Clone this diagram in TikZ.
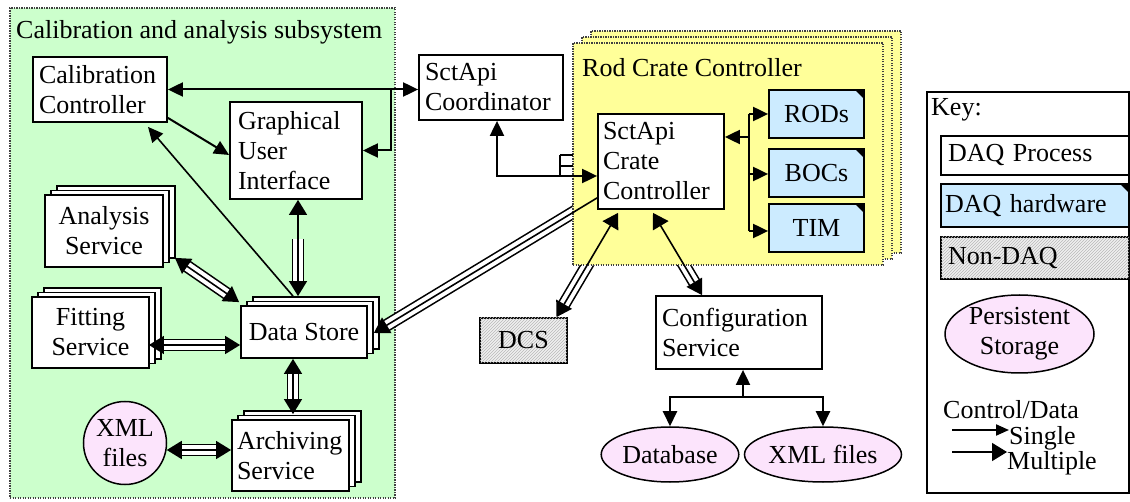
\documentclass[tikz,border=0pt]{standalone}
\usepackage{fontspec}
\newfontfamily\lserif{LiberationSerif}[Extension=.ttf, UprightFont=*-Regular, BoldFont=*-Bold]
\usetikzlibrary{arrows.meta,shadows,patterns,calc,shapes.geometric}
\pgfdeclarelayer{bg}
\pgfdeclarelayer{bandl}
\pgfdeclarelayer{yl}
\pgfsetlayers{bg,bandl,yl,main}
\definecolor{subgreen}{HTML}{CCFFCC}
\definecolor{rccyellow}{HTML}{FFFF99}
\definecolor{hwblue}{HTML}{CCEBFF}
\definecolor{storepink}{HTML}{FCE4FC}
\definecolor{dotgray}{HTML}{404040}
\tikzset{
  boxline/.style={draw=black, line width=1.8pt},
  proc/.style={boxline, fill=white, inner xsep=6pt, inner ysep=2pt, align=left},
  procc/.style={boxline, fill=white, inner sep=2pt, align=center},
  stacked/.style={double copy shadow={shadow xshift=6pt, shadow yshift=4.5pt, draw=black, line width=1.8pt, fill=white}},
  hw/.style={boxline, fill=hwblue, inner sep=2pt, align=center,
    path picture={\fill[black] (path picture bounding box.north east) -- ++(-9pt,0pt) -- ++(9pt,-9pt) -- cycle;}},
  nondaq/.style={boxline, fill=gray!12, postaction={pattern=north east lines, pattern color=gray!55}},
  store/.style={draw=black, line width=1.5pt, fill=storepink, align=center, inner sep=1pt},
  dotbox/.style={draw=dotgray, line width=1.3pt, dash pattern=on 1.3pt off 1.2pt},
  stip/.tip={Triangle[length=15pt,width=14pt]},
  mtip/.tip={Triangle[length=15pt,width=18pt]},
  sarr/.style={line width=2pt},
  marr/.style={line width=1.6pt},
  band/.style={line width=1.6pt, double=white, double distance=9.6pt},
  plain/.style={inner sep=0pt, anchor=west},
  plainb/.style={inner sep=0pt, anchor=base west}
}
\begin{document}
\begin{tikzpicture}[x=1pt,y=-1pt,font=\lserif\fontsize{26}{30}\selectfont]
\useasboundingbox (0,0) rectangle (1130,502);
\begin{pgfonlayer}{bg}
\fill[white] (0,0) rectangle (1130,502);
\node[dotbox, fill=subgreen, minimum width=385, minimum height=490, inner sep=0pt] (sub) at (202.5,253) {};
\end{pgfonlayer}
\begin{pgfonlayer}{yl}
\node[dotbox, fill=rccyellow, minimum width=310, minimum height=222, inner sep=0pt,
  double copy shadow={shadow xshift=9pt, shadow yshift=6pt, draw=dotgray, line width=1.3pt, dash pattern=on 1.3pt off 1.2pt, fill=rccyellow}] (rcc) at (728,154) {};
\end{pgfonlayer}

% titles
\node[plain] (subtitle) at (16,32) {Calibration and analysis subsystem};
\node[plain] (rcctitle) at (582,68) {Rod Crate Controller};

% calibration subsystem nodes
\node[proc, minimum width=134, minimum height=65, text width=122] (cc) at (100,89.5) {Calibration\\Controller};
\node[proc, minimum width=132, minimum height=97, text width=116, inner xsep=8pt] (gui) at (296,150.5) {Graphical\\User\\Interface};
\node[procc, stacked, minimum width=118, minimum height=72] (as) at (104,231) {Analysis\\Service};
\node[procc, stacked, minimum width=117, minimum height=71] (fs) at (90.5,332.5) {Fitting\\Service};
\node[procc, stacked, minimum width=126, minimum height=52] (ds) at (304,332) {Data Store};
\node[proc, stacked, minimum width=117, minimum height=71, text width=107, inner xsep=5pt] (ars) at (290.5,455.5) {Archiving\\Service};
\node[store, circle, minimum size=83] (xmla) at (125,443) {XML\\files};

% coordinator and crate
\node[proc, minimum width=144, minimum height=65, text width=132] (coord) at (491,87.5) {SctApi\\Coordinator};
\node[proc, minimum width=126, minimum height=95, text width=116, inner xsep=5pt] (scc) at (661,161.5) {SctApi\\Crate\\Controller};
\node[hw, minimum width=95, minimum height=48] (rods) at (816.5,114) {RODs};
\node[hw, minimum width=95, minimum height=48] (bocs) at (816.5,173) {BOCs};
\node[hw, minimum width=95, minimum height=48] (tim) at (816.5,228) {TIM};
\node[nondaq, minimum width=87, minimum height=45, inner sep=2pt] (dcs) at (523.5,340.5) {DCS};
\node[proc, minimum width=166, minimum height=73, text width=154] (cfg) at (739,332.5) {Configuration\\Service};
\node[store, ellipse, minimum width=126, minimum height=55] (db) at (670,454.5) {Database};
\node[store, ellipse, minimum width=142, minimum height=55] (xmlb) at (823,454.5) {XML files};

% key
\node[draw=black, line width=1.5pt, fill=white, minimum width=202, minimum height=401, inner sep=0pt] (key) at (1028,292.5) {};
\node[plain] (keytitle) at (931,110) {Key:};
\node[proc, minimum width=188, minimum height=39, text width=174, inner xsep=7pt] (kp) at (1035,155.5) {DAQ Process};
\node[hw, align=left, minimum width=188, minimum height=43, text width=180, inner xsep=4pt] (kh) at (1035,205.5) {DAQ hardware};
\node[nondaq, align=left, minimum width=188, minimum height=42, text width=174, inner xsep=7pt, inner ysep=2pt] (kn) at (1035,258) {Non-DAQ};
\node[store, ellipse, minimum width=149, minimum height=78] (ks) at (1019.5,334) {Persistent\\Storage};
\node[plainb] (kcd) at (943,419) {Control/Data};
\node[plainb] (ksingle) at (1009,444) {Single};
\node[plainb] (kmulti) at (1007,469) {Multiple};
\coordinate (ka) at (952,430);
\coordinate (kb) at (952,452);
\draw[sarr, -{Triangle[length=13pt,width=11pt]}] (ka) -- (ka -| ksingle.west);
\begin{pgfonlayer}{bandl}
\draw[band, shorten >=14pt] (kb) -- (kb -| kmulti.west);
\end{pgfonlayer}
\draw[marr, -{mtip}] (kb) -- (kb -| kmulti.west);

% single connectors
\draw[sarr, {stip}-{stip}] (cc.east) -- (cc.east -| coord.west);
\coordinate (j1) at ($(gui.east |- cc.east)+(28,0)$);
\draw[sarr, -{stip}] (j1) |- (gui.east);
\draw[sarr, -{stip}] ($(cc.south east)+(0,-5)$) -- ($(gui.west)+(0,4.5)$);
\coordinate (dstop) at ($(ds.north)+(-11,-9)$);
\draw[line width=1.6pt, -{stip}] (dstop) -- ($(cc.south)+(48,4)$);
\coordinate (k1) at ($(coord.south)+(6,0)$);
\draw[sarr, {stip}-{stip}] (k1) |- ($(scc.west)+(0,14.5)$);
\draw[line width=1.5pt] (560,155) -- (573,155) (560,166) -- (573,166) (560,155) -- (560,176);
\coordinate (br) at ($(scc.east)+(24,0)$);
\coordinate (timin) at ($(tim.west)+(0,3)$);
\coordinate (bocin) at ($(bocs.west)+(0,1)$);
\draw[sarr] (br |- rods.west) -- (br |- timin);
\draw[sarr, -{stip}] (br |- rods.west) -- (rods.west);
\draw[sarr, -{stip}] (br |- bocin) -- (bocin);
\draw[sarr, -{stip}] (br |- timin) -- (timin);
\draw[sarr, -{stip}] ($(scc.east)+(24,-24.5)$) -- ($(scc.east)+(0,-24.5)$);
\coordinate (c1) at ($(cfg.south)+(4,0)$);
\coordinate (c2) at ($(cfg.south)+(4,27)$);
\draw[sarr, -{stip}] (c2) -- (c1);
\draw[sarr, -{stip}] (c2) -| (db.north);
\draw[sarr, -{stip}] (c2) -| (xmlb.north);

% multiple connectors
\coordinate (g1) at ($(gui.south)+(2,0)$);
\coordinate (g2) at ($(ds.north)+(-6,-9)$);
\coordinate (a1) at ($(as.south east)+(11,-10)$);
\coordinate (a2) at ($(ds.north west)+(-1,-3)$);
\coordinate (f1) at ($(fs.east)+(-1,12.5)$);
\coordinate (d1) at ($(ds.south)+(-11,0)$);
\coordinate (d2) at ($(ars.north)+(2.5,-5)$);
\coordinate (x1) at ($(xmla.east)+(-0.5,7)$);
\coordinate (s1) at ($(scc.south west)+(0,-12)$);
\coordinate (s2) at ($(ds.east)+(6,1)$);
\coordinate (s3) at ($(scc.south)+(-43,3)$);
\coordinate (s4) at ($(dcs.north)+(33,0)$);
\coordinate (s5) at ($(scc.south)+(-8,3)$);
\coordinate (s6) at ($(cfg.north)+(-37,0)$);
\begin{pgfonlayer}{bandl}
\draw[band, shorten <=39pt, shorten >=14pt] (g1) -- (g2);
\draw[band, shorten <=14pt, shorten >=14pt] (a1) -- (a2);
\draw[band, shorten <=14pt, shorten >=14pt] (f1) -- (f1 -| ds.west);
\draw[band, shorten <=14pt, shorten >=14pt] (d1) -- (d2);
\draw[band, shorten <=14pt, shorten >=14pt] (x1) -- (x1 -| ars.west);
\draw[band, shorten >=14pt] (s1) -- (s2);
\draw[band, shorten <=14pt, shorten >=14pt] (s3) -- (s4);
\draw[band, shorten <=14pt, shorten >=14pt] (s5) -- (s6);
\end{pgfonlayer}
\draw[marr, {mtip}-{mtip}] (g1) -- (g2);
\draw[marr, {mtip}-{mtip}] (a1) -- (a2);
\draw[marr, {mtip}-{mtip}] (f1) -- (f1 -| ds.west);
\draw[marr, {mtip}-{mtip}] (d1) -- (d2);
\draw[marr, {mtip}-{mtip}] (x1) -- (x1 -| ars.west);
\draw[marr, -{mtip}] (s1) -- (s2);
\draw[marr, {mtip}-{mtip}] (s3) -- (s4);
\draw[marr, {mtip}-{mtip}] (s5) -- (s6);
\end{tikzpicture}
\end{document}
